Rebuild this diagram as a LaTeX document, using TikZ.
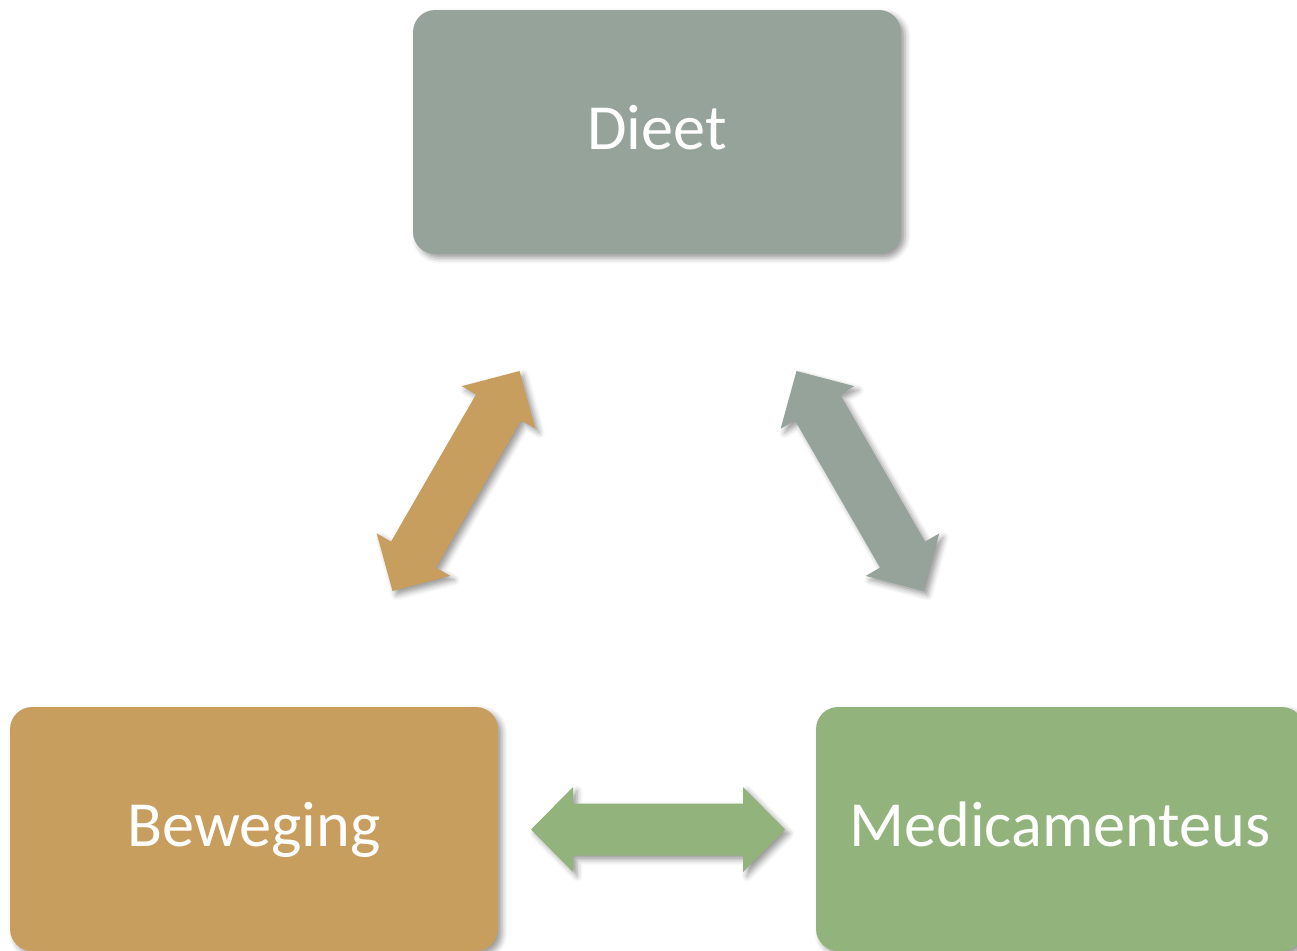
\documentclass[tikz,border=0pt]{standalone}
\usepackage{fontspec}
\setmainfont{Carlito}
\usetikzlibrary{shadows.blur}
\definecolor{dieetc}{HTML}{95A39B}
\definecolor{bewc}{HTML}{C89E5E}
\definecolor{medc}{HTML}{93B37C}
\tikzset{
  softshadow/.style={blur shadow={shadow xshift=2.3pt, shadow yshift=-2.3pt, shadow blur radius=3.2pt, shadow opacity=40}},
  box/.style={rectangle, rounded corners=0.44cm, minimum width=9.76cm, minimum height=4.88cm,
    inner sep=0pt, text=white, font=\fontsize{36.6}{40}\selectfont,
    text height=0.70cm, text depth=0pt, softshadow},
  blockarrow/.style={softshadow}
}
\begin{document}
\begin{tikzpicture}[x=0.02cm, y=-0.02cm]
\useasboundingbox (0,0) rectangle (1297,950);
\clip (0,0) rectangle (1297,950);
% boxes
\node[box, fill=dieetc] (dieet) at (657,132) {Dieet};
\node[box, fill=bewc] (beweging) at (254,829) {Beweging};
\node[box, fill=medc] (medic) at (1060,829) {Medicamenteus};
% block arrows
\fill[bewc, blockarrow] (519.5,371) -- (535.3,428.6) -- (521.0,420.4) -- (436.0,567.6) -- (450.3,575.9)
  -- (392.5,591) -- (376.7,533.4) -- (391.0,541.6) -- (476.0,394.4) -- (461.7,386.2) -- cycle;
\fill[dieetc, blockarrow] (796.5,371) -- (780.7,428.6) -- (795.0,420.4) -- (880.0,567.6) -- (865.7,575.9)
  -- (923.5,591) -- (939.3,533.4) -- (925.0,541.6) -- (840.0,394.4) -- (854.3,386.2) -- cycle;
\fill[medc, blockarrow] (531,829.5) -- (573,787) -- (573,803.5) -- (743,803.5) -- (743,787) -- (785,829.5)
  -- (743,872) -- (743,855.5) -- (573,855.5) -- (573,872) -- cycle;
\end{tikzpicture}
\end{document}
